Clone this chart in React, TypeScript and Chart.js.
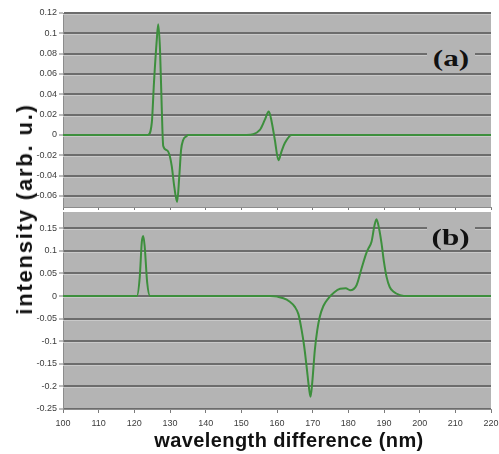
import React, { useEffect, useRef } from "react";
import { Chart, registerables } from "chart.js";
Chart.register(...registerables);

// ---- data ----
const X_MIN = 100;
const X_MAX = 220;
const X_TICKS = [100, 110, 120, 130, 140, 150, 160, 170, 180, 190, 200, 210, 220];

const WL_A = [100, 123.8, 124.9, 125.5, 126.3, 126.7, 127.2, 127.7, 128.1, 129.1, 129.8, 130.5, 131.2, 132.0, 132.6, 133.1, 133.7, 134.7, 135.1, 151.5, 155.2, 156.6, 157.7, 158.5, 159.4, 160.4, 161.3, 162.2, 164.1, 220];
const INT_A = [0, 0, 0.012, 0.051, 0.094, 0.109, 0.084, 0.025, -0.011, -0.015, -0.019, -0.031, -0.051, -0.066, -0.041, -0.015, -0.005, -0.001, 0, 0, 0.005, 0.015, 0.023, 0.013, -0.005, -0.025, -0.016, -0.008, 0, 0];
const Y_TICKS_A = [-0.06, -0.04, -0.02, 0, 0.02, 0.04, 0.06, 0.08, 0.1, 0.12];
const Y_MIN_A = -0.071;
const Y_MAX_A = 0.12;

const WL_B = [100, 120.7, 121.5, 122.1, 122.5, 122.9, 123.6, 124.4, 158, 161.8, 163.5, 165.0, 166.0, 166.9, 167.6, 168.3, 169.0, 169.4, 169.9, 170.6, 171.3, 172.0, 173.0, 174.4, 176.0, 177.7, 179.3, 180.5, 182.3, 183.7, 185.0, 185.6, 186.5, 187.3, 187.9, 188.6, 189.3, 190.0, 190.7, 191.6, 192.6, 194.5, 197, 220];
const INT_B = [0, 0, 0.04, 0.12, 0.133, 0.11, 0.03, 0, 0, -0.005, -0.012, -0.024, -0.04, -0.075, -0.11, -0.156, -0.205, -0.223, -0.19, -0.12, -0.075, -0.046, -0.022, -0.005, 0.008, 0.016, 0.017, 0.013, 0.024, 0.061, 0.094, 0.105, 0.12, 0.155, 0.17, 0.15, 0.117, 0.075, 0.043, 0.02, 0.01, 0.002, 0, 0];
const Y_TICKS_B = [-0.25, -0.2, -0.15, -0.1, -0.05, 0, 0.05, 0.1, 0.15];
const Y_MIN_B = -0.25;
const Y_MAX_B = 0.186;

const Y_TITLE = "intensity (arb. u.)";
const X_TITLE = "wavelength difference (nm)";
const PANEL_A = "(a)";
const PANEL_B = "(b)";

// ---- styles ----
const PLOT_BG = "#b4b4b4";
const GRID_DARK = "#6c6c6c";
const GRID_LIGHT = "#c9c9c9";
const LINE_COLOR = "#3d8f3d";
const TICK_FONT = { family: '"Liberation Sans", Arial, sans-serif', size: 9 };
const TICK_COLOR = "#3c3c3c";

const bgPlugin = {
  id: "plotBg",
  beforeDraw(chart: any) {
    const { ctx, chartArea } = chart;
    if (!chartArea) return;
    ctx.save();
    ctx.fillStyle = PLOT_BG;
    ctx.fillRect(chartArea.left, chartArea.top, chartArea.right - chartArea.left, chartArea.bottom - chartArea.top);
    ctx.restore();
  },
  beforeDatasetsDraw(chart: any) {
    const { ctx, chartArea } = chart;
    const ys = chart.scales.y;
    ctx.save();
    ctx.strokeStyle = GRID_LIGHT;
    ctx.lineWidth = 1;
    ys.ticks.forEach((t: any) => {
      const p = Math.round(ys.getPixelForValue(t.value)) + 1.5;
      if (p >= chartArea.bottom - 1) return;
      ctx.beginPath();
      ctx.moveTo(chartArea.left, p);
      ctx.lineTo(chartArea.right, p);
      ctx.stroke();
    });
    ctx.restore();
  },
};

function fmt(v: number) {
  return String(Number(v.toFixed(3)));
}

function Panel(props: {
  wl: number[];
  vals: number[];
  yMin: number;
  yMax: number;
  yTicks: number[];
  showX: boolean;
  width: number;
  height: number;
  padTop: number;
  xHeight: number;
}) {
  const ref = useRef<HTMLCanvasElement>(null);
  useEffect(() => {
    if (!ref.current) return;
    const data = props.wl.map((x, i) => ({ x, y: props.vals[i] }));
    const chart = new Chart(ref.current, {
      type: "line",
      data: {
        datasets: [
          {
            data,
            borderColor: LINE_COLOR,
            borderWidth: 2,
            pointRadius: 0,
            fill: false,
            cubicInterpolationMode: "monotone",
          },
        ],
      },
      options: {
        animation: false,
        responsive: false,
        devicePixelRatio: 1,
        layout: { padding: { top: props.padTop, right: 8, left: 0, bottom: 0 } },
        plugins: { legend: { display: false }, tooltip: { enabled: false } },
        scales: {
          x: {
            type: "linear",
            min: X_MIN,
            max: X_MAX,
            afterBuildTicks: (axis: any) => {
              axis.ticks = X_TICKS.map((v) => ({ value: v }));
            },
            afterFit: (axis: any) => {
              axis.height = props.xHeight;
              axis.paddingLeft = 0;
              axis.paddingRight = 0;
            },
            ticks: {
              display: props.showX,
              font: TICK_FONT,
              color: TICK_COLOR,
              padding: 5,
              maxRotation: 0,
              callback: (v: any) => String(v),
            },
            grid: { drawOnChartArea: false, drawTicks: true, tickLength: 4, color: "#7a7a7a" },
            border: { display: true, color: "#8c8c8c", width: 1 },
          },
          y: {
            type: "linear",
            min: props.yMin,
            max: props.yMax,
            afterBuildTicks: (axis: any) => {
              axis.ticks = props.yTicks.map((v) => ({ value: v }));
            },
            afterFit: (axis: any) => {
              axis.width = 63;
              axis.paddingTop = 0;
              axis.paddingBottom = 0;
            },
            ticks: {
              font: TICK_FONT,
              color: TICK_COLOR,
              padding: 2,
              callback: (v: any) => fmt(Number(v)),
            },
            grid: {
              drawOnChartArea: true,
              drawTicks: true,
              tickLength: 4,
              color: GRID_DARK,
              lineWidth: 2,
              tickColor: "#7a7a7a",
              tickWidth: 1,
            },
            border: { display: true, color: "#8c8c8c", width: 1 },
          },
        },
      },
      plugins: [bgPlugin],
    } as any);
    return () => chart.destroy();
  }, []);
  return <canvas ref={ref} width={props.width} height={props.height} style={{ display: "block", width: props.width, height: props.height }} />;
}

const labelBox: React.CSSProperties = {
  position: "absolute",
  left: 427,
  width: 48,
  height: 26,
  background: PLOT_BG,
  display: "flex",
  alignItems: "center",
  justifyContent: "center",
};
const labelText: React.CSSProperties = {
  fontFamily: '"Liberation Serif", "Times New Roman", serif',
  fontWeight: "bold",
  fontSize: 24,
  lineHeight: "24px",
  color: "#111",
  display: "inline-block",
  transform: "scaleX(1.3)",
};

export default function App() {
  return (
    <div style={{ position: "absolute", left: 0, top: 0, width: 499, height: 454, background: "#fff", overflow: "hidden" }}>
      <div style={{ position: "absolute", left: 0, top: 0 }}>
        <Panel wl={WL_A} vals={INT_A} yMin={Y_MIN_A} yMax={Y_MAX_A} yTicks={Y_TICKS_A} showX={false} width={499} height={210} padTop={13} xHeight={3} />
      </div>
      <div style={{ position: "absolute", left: 0, top: 210 }}>
        <Panel wl={WL_B} vals={INT_B} yMin={Y_MIN_B} yMax={Y_MAX_B} yTicks={Y_TICKS_B} showX={true} width={499} height={244} padTop={2} xHeight={45} />
      </div>
      <div style={{ ...labelBox, top: 45 }}>
        <span style={labelText}>{PANEL_A}</span>
      </div>
      <div style={{ ...labelBox, top: 224 }}>
        <span style={labelText}>{PANEL_B}</span>
      </div>
      <div
        style={{
          position: "absolute",
          left: 25,
          top: 209,
          transform: "translate(-50%, -50%) rotate(-90deg)",
          whiteSpace: "nowrap",
          fontFamily: '"Liberation Sans", Arial, sans-serif',
          fontWeight: "bold",
          fontSize: 22,
          letterSpacing: "1.8px",
          color: "#111",
        }}
      >
        {Y_TITLE}
      </div>
      <div
        style={{
          position: "absolute",
          left: 289,
          top: 440,
          transform: "translate(-50%, -50%)",
          whiteSpace: "nowrap",
          fontFamily: '"Liberation Sans", Arial, sans-serif',
          fontWeight: "bold",
          fontSize: 20,
          letterSpacing: "0.4px",
          color: "#111",
        }}
      >
        {X_TITLE}
      </div>
    </div>
  );
}
